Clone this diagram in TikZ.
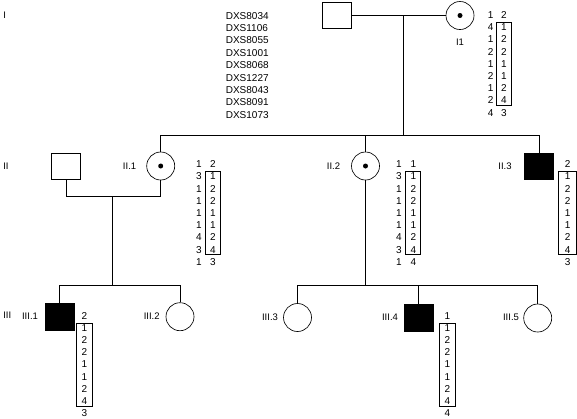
\documentclass[tikz,border=0pt]{standalone}
\usepackage{fontspec}
\setmainfont{Liberation Sans}
\usetikzlibrary{positioning}
\tikzset{male/.style={draw, rectangle, minimum width=29pt, minimum height=26.5pt, inner sep=0pt},
  female/.style={draw, circle, minimum size=28pt, inner sep=0pt},
  affected/.style={fill=black},
  num/.style={font=\fontsize{10}{11}\selectfont, inner sep=0pt},
  lbl/.style={font=\fontsize{9.5}{10}\selectfont, inner sep=0pt}}
% one column of alleles, top row at (#1,#2)
\newcommand{\haplo}[3]{\foreach \a [count=\i from 0] in {#3} \node[num] at (#1,#2+12.2*\i) {\a};}
% box round rows 2 to 8 of a column
\newcommand{\hapbox}[3]{\draw (#1-#3,#2+7.2) rectangle (#1+#3,#2+90.4);}

\begin{document}
\begin{tikzpicture}[x=1pt, y=-1pt, line width=0.65pt]
      \useasboundingbox (0,0) rectangle (577,418);

      % generation I
      \node [male] (I0) at (337,15.5) {};
      \node [female] (I1) at (460,15.5) {};
      \fill (I1) circle (2.5);
      \node [lbl, below=9pt of I1] {I1};
      \foreach \m [count=\i from 0] in {DXS8034,DXS1106,DXS8055,DXS1001,DXS8068,DXS1227,DXS8043,DXS8091,DXS1073}
        \node [num, anchor=west] at (225.5,15.7+12.4*\i) {\m};
      \haplo{490.7}{15}{1,4,1,2,1,2,1,2,4}
      \haplo{504}{15}{2,1,2,2,1,1,2,4,3}
      \hapbox{504}{15}{7.5}

      % generation II
      \node [male] (II0) at (66,166.5) {};
      \node [female] (II1) at (160.7,166) {};
      \fill (II1) circle (2.5);
      \node [female] (II2) at (365.5,166) {};
      \fill (II2) circle (2.5);
      \node [male, affected] (II3) at (539.2,166.5) {};
      \node [lbl, anchor=east] at (136.5,166) {II.1};
      \node [lbl] at (333.5,166) {II.2};
      \node [lbl] at (505,166) {II.3};
      \haplo{199}{164.3}{1,3,1,1,1,1,4,3,1}
      \haplo{213}{164.3}{2,1,2,2,1,1,2,4,3}
      \hapbox{213}{164.3}{7.5}
      \haplo{399}{164.3}{1,3,1,1,1,1,4,3,1}
      \haplo{413.3}{164.3}{1,1,2,2,1,1,2,4,4}
      \hapbox{413.3}{164.3}{7.5}
      \haplo{567.7}{164.3}{2,1,2,2,1,1,2,4,3}
      \hapbox{567.7}{164.3}{9}

      % generation III
      \node [male, affected] (III1) at (59.5,316.7) {};
      \node [female] (III2) at (180,316.7) {};
      \node [female] (III3) at (297.5,317.5) {};
      \node [male, affected] (III4) at (418.7,318) {};
      \node [female] (III5) at (537.7,318) {};
      \node [lbl] at (30,316) {III.1};
      \node [lbl] at (151.7,316) {III.2};
      \node [lbl] at (270,317) {III.3};
      \node [lbl] at (390,317) {III.4};
      \node [lbl] at (511,317) {III.5};
      \haplo{84.3}{315.7}{2,1,2,2,1,1,2,4,3}
      \hapbox{84.3}{315.7}{8}
      \haplo{447.3}{315.7}{1,1,2,2,1,1,2,4,4}
      \hapbox{447.3}{315.7}{8}

      \node [lbl, anchor=west] at (3,15) {I};
      \node [lbl, anchor=west] at (3,166) {II};
      \node [lbl, anchor=west] at (3,315) {III};

      % lines of descent
      \coordinate (m1) at (403,15.5);
      \coordinate (s2) at (403,135.7);
      \coordinate (m2) at (112.3,196.7);
      \coordinate (s3a) at (112.3,285.7);
      \coordinate (s3b) at (365.5,285.7);
      \draw (I0) -- (I1);
      \draw (m1) -- (s2);
      \draw (II1.north) |- (s2) -| (II3.north);
      \draw (II2.north) -- (II2.north |- s2);
      \draw (II0.south) |- (m2) -| (II1.south);
      \draw (m2) -- (s3a);
      \draw (III1.north) |- (s3a) -| (III2.north);
      \draw (II2.south) -- (s3b);
      \draw (III3.north) |- (s3b) -| (III5.north);
      \draw (III4.north) -- (III4.north |- s3b);

    \end{tikzpicture}
\end{document}
